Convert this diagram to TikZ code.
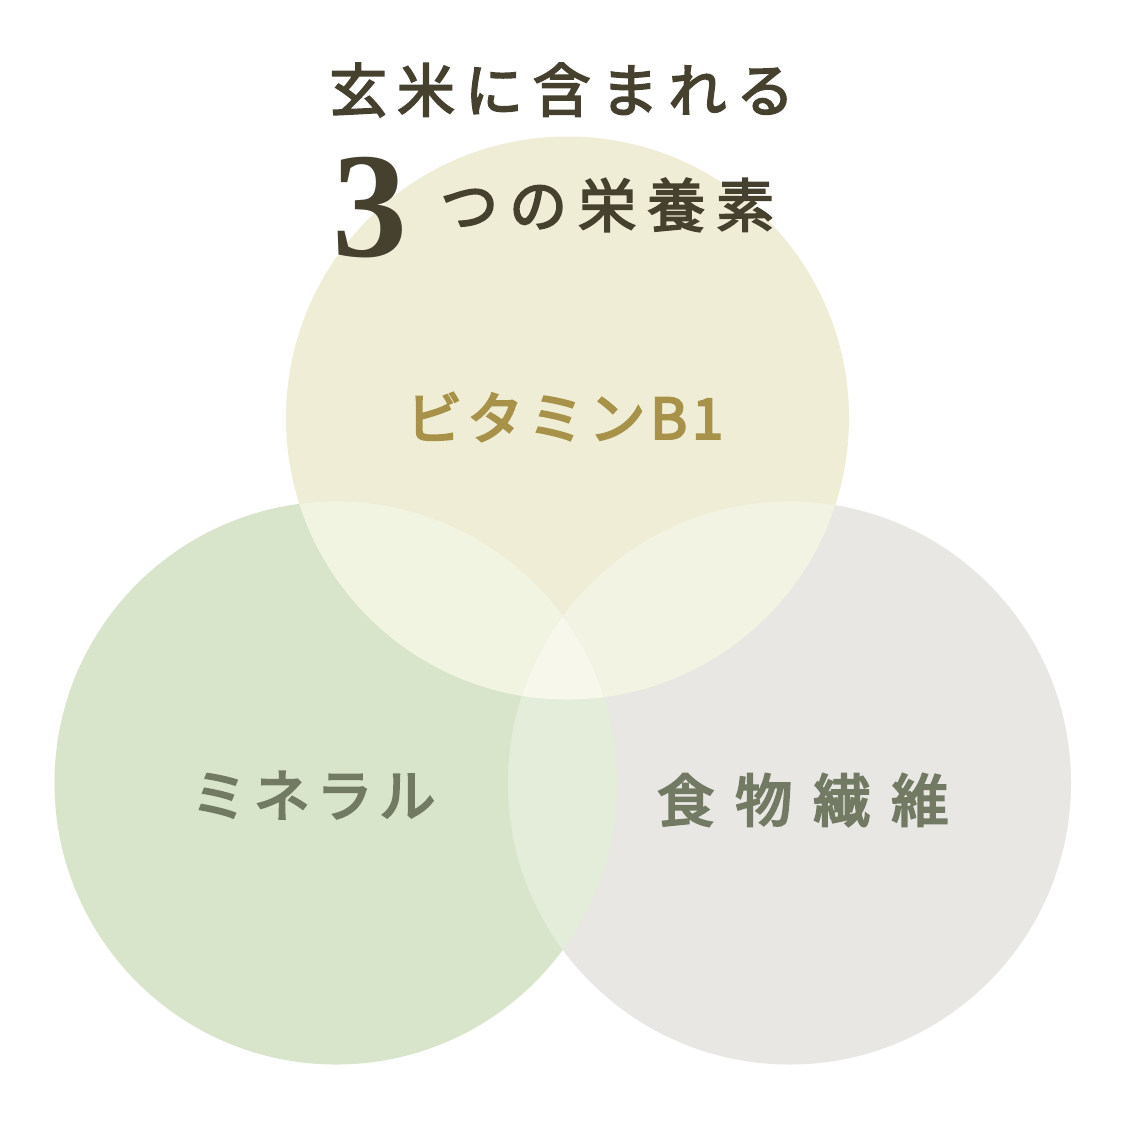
\documentclass[tikz,border=0pt]{standalone}
\usepackage{fontspec}
\newfontfamily\headfont[FakeBold=3]{Noto Sans CJK JP}
\newfontfamily\labfont[FakeBold=4]{Noto Sans CJK JP}
\newfontfamily\numfont{Liberation Serif}
\definecolor{topc}{HTML}{EFEDD5}
\definecolor{leftc}{HTML}{D8E5CA}
\definecolor{rightc}{HTML}{E8E7E3}
\definecolor{tlc}{HTML}{F2F4E2}
\definecolor{trc}{HTML}{F3F3E4}
\definecolor{lrc}{HTML}{E3EDD9}
\definecolor{allc}{HTML}{F7F7EC}
\definecolor{headc}{HTML}{46402E}
\definecolor{goldc}{HTML}{A89249}
\definecolor{grayc}{HTML}{737A64}
\tikzset{
  txt/.style={inner sep=0pt, anchor=west},
}
\begin{document}
\begin{tikzpicture}[x=1pt,y=-1pt]
\useasboundingbox (0,0) rectangle (1126,1125);
\fill[white] (0,0) rectangle (1126,1125);
\coordinate (T) at (567.5,418);
\coordinate (L) at (336,783);
\coordinate (R) at (789.5,783);
\def\rad{281.5pt}
\fill[leftc] (L) circle (\rad);
\fill[rightc] (R) circle (\rad);
\fill[topc] (T) circle (\rad);
\begin{scope}
  \clip (T) circle (\rad);
  \fill[tlc] (L) circle (\rad);
  \fill[trc] (R) circle (\rad);
\end{scope}
\begin{scope}
  \clip (L) circle (\rad);
  \fill[lrc] (R) circle (\rad);
  \clip (R) circle (\rad);
  \fill[allc] (T) circle (\rad);
\end{scope}
\node[txt, text=headc, font=\headfont\fontsize{58}{58}\selectfont\addfontfeature{LetterSpace=17}] (h1) at (329,90) {玄米に含まれる};
\node[inner sep=0pt, text=headc, font=\numfont\bfseries\fontsize{150}{150}\selectfont] (h3) at (370,208) {3};
\node[txt, text=headc, font=\headfont\fontsize{58}{58}\selectfont\addfontfeature{LetterSpace=19}] (h2) at (440,205) {つの栄養素};
\node[txt, text=goldc, font=\labfont\fontsize{56}{56}\selectfont\addfontfeature{LetterSpace=9}] (vb) at (406,417) {ビタミンB1};
\node[txt, text=grayc, font=\labfont\fontsize{56}{56}\selectfont\addfontfeature{LetterSpace=12}] (mi) at (191,795) {ミネラル};
\node[txt, text=grayc, font=\labfont\fontsize{57}{57}\selectfont\addfontfeature{LetterSpace=37}] (fi) at (657,800) {食物繊維};
\end{tikzpicture}
\end{document}
